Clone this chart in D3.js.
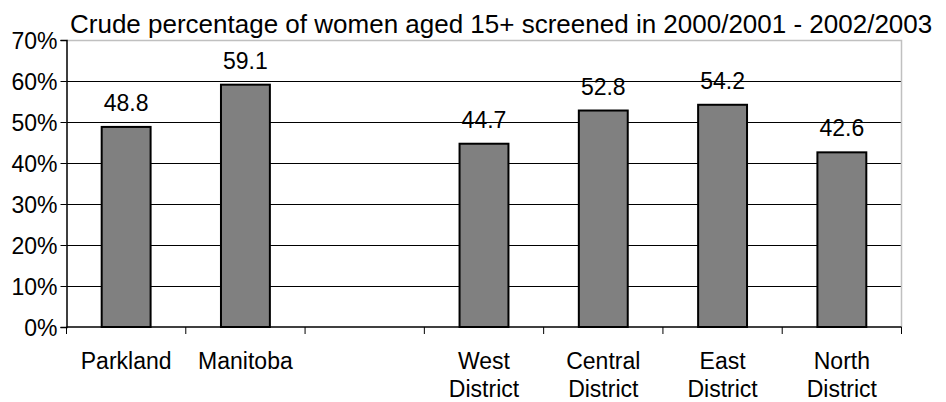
<!DOCTYPE html>
<html><head><meta charset="utf-8">
<script src="https://cdn.jsdelivr.net/npm/d3@7"></script>
<style>body{margin:0;background:#fff}svg{display:block}text{font-family:"Liberation Sans",Arial,sans-serif;fill:#000}</style>
</head><body><svg id="c" width="946" height="402"></svg>
<script>
const title = "Crude percentage of women aged 15+ screened in 2000/2001 - 2002/2003";
const categories = ["Parkland", "Manitoba", "", "West District", "Central District", "East District", "North District"];
const categoryLines = [["Parkland"], ["Manitoba"], [""], ["West", "District"], ["Central", "District"], ["East", "District"], ["North", "District"]];
const values = [48.8, 59.1, null, 44.7, 52.8, 54.2, 42.6];
const yTicks = [0, 10, 20, 30, 40, 50, 60, 70];

const svg = d3.select("#c");
const L = 66.5, R = 901.5, T = 40, B = 327;
const FS = 23;
const x = d3.scaleBand().domain(categories.map((c, i) => i)).range([L, R]).paddingInner(0.59).paddingOuter(0.295);
const y = d3.scaleLinear().domain([0, 70]).range([B, T]);

// grid
svg.append("g").selectAll("line").data(yTicks.filter(d => d > 0 && d < 70)).join("line")
  .attr("x1", L).attr("x2", R).attr("y1", d => Math.round(y(d)) + 0.5).attr("y2", d => Math.round(y(d)) + 0.5)
  .attr("stroke", "#000").attr("stroke-width", 1);
// plot border top/right
svg.append("path").attr("d", `M${L},${T + 0.5}H${R}V${B}`).attr("fill", "none").attr("stroke", "#c0c0c0").attr("stroke-width", 1.5);

// bars
const data = values.map((v, i) => ({i, v})).filter(d => d.v !== null);
svg.append("g").selectAll("rect").data(data).join("rect")
  .attr("x", d => x(d.i)).attr("width", x.bandwidth())
  .attr("y", d => y(d.v)).attr("height", d => B - y(d.v))
  .attr("fill", "#808080").attr("stroke", "#000").attr("stroke-width", 2);
svg.append("g").selectAll("text").data(data).join("text")
  .attr("x", d => x(d.i) + x.bandwidth() / 2).attr("y", d => y(d.v) - 16)
  .attr("text-anchor", "middle").attr("font-size", FS).text(d => d.v.toFixed(1));

// y axis
const ya = svg.append("g").attr("transform", `translate(${L},0)`)
  .call(d3.axisLeft(y).tickValues(yTicks).tickFormat(d => d + "%").tickSize(6).tickPadding(3));
ya.select(".domain").attr("stroke", "#000").attr("stroke-width", 1.5);
ya.selectAll("line").attr("stroke", "#000");
ya.selectAll("text").attr("font-size", FS).attr("font-family", '"Liberation Sans",Arial,sans-serif').attr("dy", "0.36em");

// x axis
const xa = svg.append("g").attr("transform", `translate(0,${B})`);
xa.append("line").attr("x1", L).attr("x2", R).attr("stroke", "#000").attr("stroke-width", 1.5);
xa.selectAll("line.t").data(d3.range(categories.length + 1)).join("line").attr("class", "t")
  .attr("x1", i => L + i * (R - L) / categories.length).attr("x2", i => L + i * (R - L) / categories.length)
  .attr("y1", 0).attr("y2", 7).attr("stroke", "#000").attr("stroke-width", 1);
xa.selectAll("text").data(categoryLines.map((l, i) => ({l, i}))).join("text")
  .attr("text-anchor", "middle").attr("font-size", FS)
  .attr("transform", d => `translate(${x(d.i) + x.bandwidth() / 2},42)`)
  .selectAll("tspan").data(d => d.l).join("tspan").attr("x", 0).attr("dy", (d, k) => k ? 28 : 0).text(d => d);

svg.append("text").attr("x", 70).attr("y", 33).attr("font-size", 26).text(title);
</script></body></html>
